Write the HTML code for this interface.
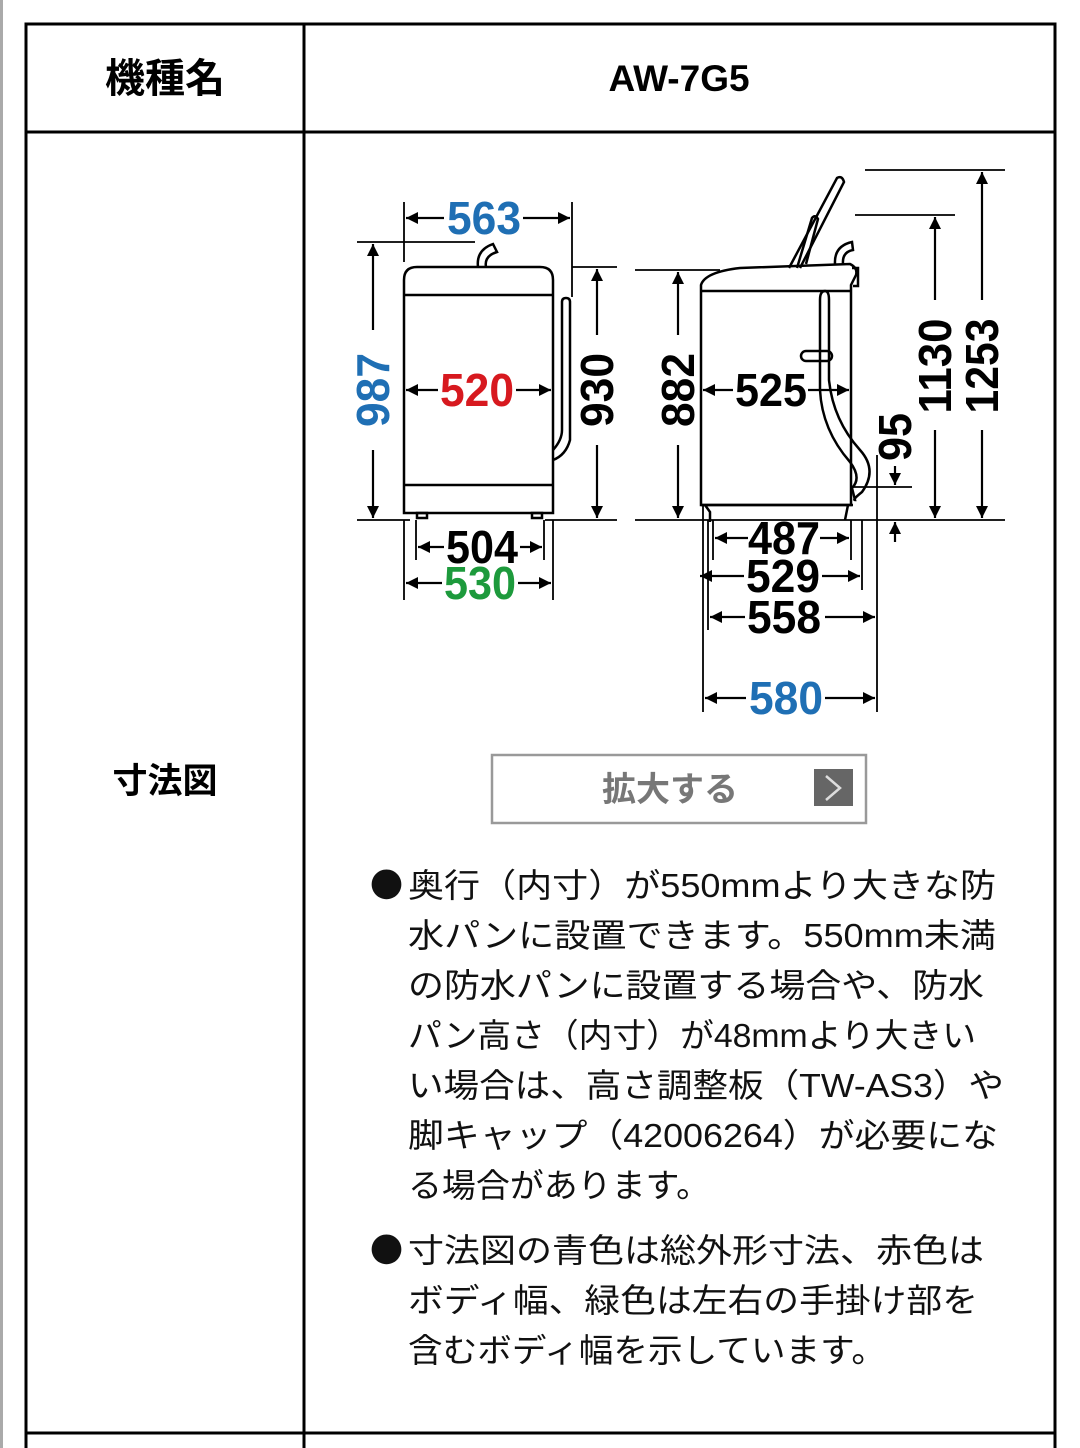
<!DOCTYPE html>
<html><head><meta charset="utf-8"><style>
html,body{margin:0;padding:0;background:#fff;}
svg{display:block;}
.d{font-family:"Liberation Sans Narrow","Liberation Sans",sans-serif;font-weight:bold;font-size:46px;}
.j{font-family:"Liberation Sans","Noto Sans CJK JP",sans-serif;font-size:33px;fill:#111;}
.b{font-family:"Noto Sans CJK JP",sans-serif;}
</style></head><body>
<svg width="1080" height="1448" viewBox="0 0 1080 1448" xmlns="http://www.w3.org/2000/svg">
<defs>
<marker id="a" viewBox="0 0 10 10" refX="10" refY="5" markerWidth="17" markerHeight="12" markerUnits="userSpaceOnUse" orient="auto-start-reverse"><path d="M0,0 L10,5 L0,10 z" fill="#000"/></marker>
</defs>
<rect x="0" y="0" width="3" height="1448" fill="#aaa"/>
<g stroke="#000" stroke-width="3" fill="none">
<rect x="26" y="24" width="1029" height="1440"/>
<line x1="304" y1="24" x2="304" y2="1448"/>
<line x1="26" y1="132" x2="1055" y2="132"/>
<line x1="26" y1="1433" x2="1055" y2="1433"/>
</g>
<text x="165" y="92" text-anchor="middle" font-family="'Liberation Sans','Noto Sans CJK JP',sans-serif" font-weight="bold" font-size="40">機種名</text>
<text x="679" y="91" text-anchor="middle" font-family="'Liberation Sans',sans-serif" font-weight="bold" font-size="37">AW-7G5</text>
<text x="165" y="793" text-anchor="middle" font-family="'Liberation Sans','Noto Sans CJK JP',sans-serif" font-weight="bold" font-size="35">寸法図</text>

<!-- LEFT front view -->
<g stroke="#000" stroke-width="2.5" fill="none">
<path d="M404,513 L404,280 Q404,267 417,267 L540,267 Q553,267 553,280 L553,513 Z"/>
<line x1="404" y1="295" x2="553" y2="295"/>
<line x1="404" y1="485" x2="553" y2="485"/>
<path d="M478,267 Q476,250 493,244 L497,252 Q484,256 486,267"/>
<path d="M553,450 Q562,440 562,430 L562,302 Q562,298 566,298 Q570,298 570,302 L570,440 Q566,455 553,460"/>
<rect x="417" y="513" width="10" height="5"/><rect x="532" y="513" width="10" height="5"/>
</g>
<g stroke="#000" stroke-width="1.8" fill="none">
<line x1="404" y1="202" x2="404" y2="262"/><line x1="572" y1="202" x2="572" y2="297"/>
<line x1="357" y1="242" x2="475" y2="242"/>
<line x1="357" y1="520" x2="410" y2="520"/><line x1="545" y1="520" x2="617" y2="520"/>
<line x1="572" y1="267" x2="617" y2="267"/>
<line x1="404" y1="520" x2="404" y2="600"/><line x1="553" y1="520" x2="553" y2="600"/>
<line x1="416" y1="520" x2="416" y2="560"/><line x1="544" y1="520" x2="544" y2="560"/>
</g>
<g stroke="#000" stroke-width="2.2">
<line x1="444" y1="218" x2="406" y2="218" marker-end="url(#a)"/><line x1="523" y1="218" x2="570" y2="218" marker-end="url(#a)"/>
<line x1="373" y1="330" x2="373" y2="244" marker-end="url(#a)"/><line x1="373" y1="450" x2="373" y2="518" marker-end="url(#a)"/>
<line x1="597" y1="335" x2="597" y2="269" marker-end="url(#a)"/><line x1="597" y1="445" x2="597" y2="518" marker-end="url(#a)"/>
<line x1="438" y1="390" x2="406" y2="390" marker-end="url(#a)"/><line x1="516" y1="390" x2="551" y2="390" marker-end="url(#a)"/>
<line x1="444" y1="547" x2="418" y2="547" marker-end="url(#a)"/><line x1="520" y1="547" x2="542" y2="547" marker-end="url(#a)"/>
<line x1="442" y1="583" x2="406" y2="583" marker-end="url(#a)"/><line x1="518" y1="583" x2="551" y2="583" marker-end="url(#a)"/>
</g>
<text class="d" x="447" y="234" fill="#1f6fb4" textLength="74" lengthAdjust="spacingAndGlyphs">563</text>
<text class="d" x="440" y="406" fill="#d7191f" textLength="74" lengthAdjust="spacingAndGlyphs">520</text>
<text class="d" x="446" y="563" fill="#000" textLength="72" lengthAdjust="spacingAndGlyphs">504</text>
<text class="d" x="444" y="599" fill="#1d9a3c" textLength="72" lengthAdjust="spacingAndGlyphs">530</text>
<text class="d" transform="translate(389,390) rotate(-90)" text-anchor="middle" fill="#1f6fb4" textLength="74" lengthAdjust="spacingAndGlyphs">987</text>
<text class="d" transform="translate(613,390) rotate(-90)" text-anchor="middle" fill="#000" textLength="74" lengthAdjust="spacingAndGlyphs">930</text>

<!-- RIGHT side view -->
<g stroke="#000" stroke-width="2.5" fill="none">
<path d="M701,505 L701,285 Q705,272 740,268 L850,264 Q858,268 856,275 L851,285 L851,505 Z"/>
<line x1="701" y1="291" x2="851" y2="291"/>
<line x1="701" y1="505" x2="853" y2="505"/>
<path d="M705,505 L710,512 L710,522 M848,505 L845,520"/>
<path d="M789,268 L837,178 Q842,175 844,182 L800,268"/>
<path d="M797,268 L812,218 Q815,214 818,219 L806,264"/>
<path d="M835,264 Q834,246 852,242 L853,250 Q842,252 843,264"/>
<path d="M852,268 L858,268 L858,286 L853,286"/>
<path d="M820,300 Q820,291 825,291 Q829,291 829,300 L829,380 Q833,420 860,450 Q878,470 862,492 Q852,500 855,500 L852,488 Q862,478 850,462 Q822,430 820,390 Z"/>
<rect x="801" y="351" width="31" height="10" rx="5"/>
</g>
<g stroke="#000" stroke-width="1.8" fill="none">
<line x1="635" y1="520" x2="1005" y2="520"/>
<line x1="635" y1="270" x2="720" y2="270"/>
<line x1="855" y1="215" x2="955" y2="215"/>
<line x1="865" y1="170" x2="1005" y2="170"/>
<line x1="850" y1="487" x2="912" y2="487"/>
<line x1="703" y1="505" x2="703" y2="712"/><line x1="877" y1="455" x2="877" y2="712"/>
<line x1="713" y1="520" x2="713" y2="560"/><line x1="851" y1="520" x2="851" y2="560"/>
<line x1="862" y1="520" x2="862" y2="590"/><line x1="708" y1="520" x2="708" y2="630"/>
</g>
<g stroke="#000" stroke-width="2.2">
<line x1="678" y1="335" x2="678" y2="272" marker-end="url(#a)"/><line x1="678" y1="445" x2="678" y2="518" marker-end="url(#a)"/>
<line x1="733" y1="390" x2="703" y2="390" marker-end="url(#a)"/><line x1="808" y1="390" x2="849" y2="390" marker-end="url(#a)"/>
<line x1="935" y1="300" x2="935" y2="217" marker-end="url(#a)"/><line x1="935" y1="430" x2="935" y2="518" marker-end="url(#a)"/>
<line x1="982" y1="300" x2="982" y2="172" marker-end="url(#a)"/><line x1="982" y1="430" x2="982" y2="518" marker-end="url(#a)"/>
<line x1="895" y1="466" x2="895" y2="485" marker-end="url(#a)"/><line x1="895" y1="542" x2="895" y2="522" marker-end="url(#a)"/>
<line x1="748" y1="538" x2="715" y2="538" marker-end="url(#a)"/><line x1="820" y1="538" x2="849" y2="538" marker-end="url(#a)"/>
<line x1="744" y1="576" x2="700" y2="576" marker-end="url(#a)"/><line x1="822" y1="576" x2="860" y2="576" marker-end="url(#a)"/>
<line x1="745" y1="617" x2="710" y2="617" marker-end="url(#a)"/><line x1="825" y1="617" x2="875" y2="617" marker-end="url(#a)"/>
<line x1="746" y1="698" x2="705" y2="698" marker-end="url(#a)"/><line x1="825" y1="698" x2="875" y2="698" marker-end="url(#a)"/>
</g>
<text class="d" x="735" y="406" textLength="72" lengthAdjust="spacingAndGlyphs">525</text>
<text class="d" x="748" y="554" textLength="72" lengthAdjust="spacingAndGlyphs">487</text>
<text class="d" x="746" y="592" textLength="74" lengthAdjust="spacingAndGlyphs">529</text>
<text class="d" x="747" y="633" textLength="74" lengthAdjust="spacingAndGlyphs">558</text>
<text class="d" x="749" y="714" fill="#1f6fb4" textLength="74" lengthAdjust="spacingAndGlyphs">580</text>
<text class="d" transform="translate(694,390) rotate(-90)" text-anchor="middle" textLength="74" lengthAdjust="spacingAndGlyphs">882</text>
<text class="d" transform="translate(911,437) rotate(-90)" text-anchor="middle" textLength="48" lengthAdjust="spacingAndGlyphs">95</text>
<text class="d" transform="translate(951,366) rotate(-90)" text-anchor="middle" textLength="95" lengthAdjust="spacingAndGlyphs">1130</text>
<text class="d" transform="translate(998,366) rotate(-90)" text-anchor="middle" textLength="95" lengthAdjust="spacingAndGlyphs">1253</text>

<!-- button -->
<rect x="492" y="755" width="374" height="68" fill="#fff" stroke="#999" stroke-width="2.5"/>
<text x="670" y="801" text-anchor="middle" font-family="'Liberation Sans','Noto Sans CJK JP',sans-serif" font-size="34" fill="#777" font-weight="bold">拡大する</text>
<rect x="814" y="769" width="39" height="37" fill="#666"/>
<path d="M826,776 L840,788 L826,800" stroke="#ddd" stroke-width="2.5" fill="none"/>

<!-- notes -->
<g class="j">
<text class="b" x="370" y="897">●</text>
<text x="408" y="897" textLength="588" lengthAdjust="spacingAndGlyphs">奥行（内寸）が550mmより大きな防</text>
<text x="408" y="947" textLength="588" lengthAdjust="spacingAndGlyphs">水パンに設置できます。550mm未満</text>
<text x="408" y="997" textLength="576" lengthAdjust="spacingAndGlyphs">の防水パンに設置する場合や、防水</text>
<text x="408" y="1047" textLength="568" lengthAdjust="spacingAndGlyphs">パン高さ（内寸）が48mmより大きい</text>
<text x="408" y="1097" textLength="596" lengthAdjust="spacingAndGlyphs">い場合は、高さ調整板（TW-AS3）や</text>
<text x="408" y="1147" textLength="590" lengthAdjust="spacingAndGlyphs">脚キャップ（42006264）が必要にな</text>
<text x="408" y="1197" textLength="302" lengthAdjust="spacingAndGlyphs">る場合があります。</text>
<text class="b" x="370" y="1262">●</text>
<text x="408" y="1262" textLength="576" lengthAdjust="spacingAndGlyphs">寸法図の青色は総外形寸法、赤色は</text>
<text x="408" y="1312" textLength="570" lengthAdjust="spacingAndGlyphs">ボディ幅、緑色は左右の手掛け部を</text>
<text x="408" y="1362" textLength="478" lengthAdjust="spacingAndGlyphs">含むボディ幅を示しています。</text>
</g>
</svg>
</body></html>
